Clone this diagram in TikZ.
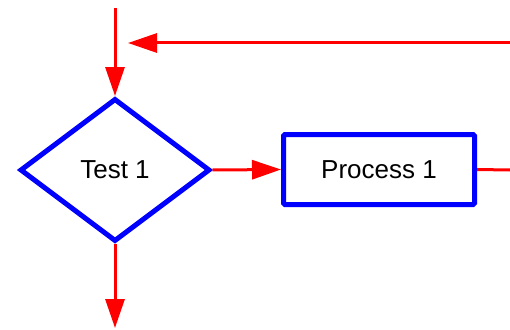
\documentclass[tikz,border=0pt]{standalone}
\usepackage{fontspec}
\setmainfont{Liberation Sans}
\usetikzlibrary{arrows.meta,shapes.geometric}

\begin{document}
\begin{tikzpicture}[x=1pt,y=-1pt,
  box/.style={draw=blue,line width=5pt,fill=white,font=\fontsize{26}{30}\selectfont},
  flow/.style={draw=red,line width=3pt,-{Triangle[length=29pt,width=19pt]}}]
\useasboundingbox (0,0) rectangle (510,329);
\node[box,diamond,minimum width=190pt,minimum height=143pt,inner sep=0pt] (test) at (115,170){Test 1};
\node[box,rectangle,rounded corners=1.5pt,minimum width=191pt,minimum height=70pt] (proc) at (379,169.5){Process 1};
\coordinate (in) at (115,8); \coordinate (back) at (510,43); \coordinate (backend) at (128,43);
\coordinate (out) at (510,170); \coordinate (down) at (115,328);
\draw[flow] (in)--(test.north);
\draw[flow] (back)--(backend);
\draw[flow] (test.east)--(proc.west);
\draw[flow,-] (proc.east)--(out);
\draw[flow] (test.south)--(down);
\end{tikzpicture}
\end{document}
